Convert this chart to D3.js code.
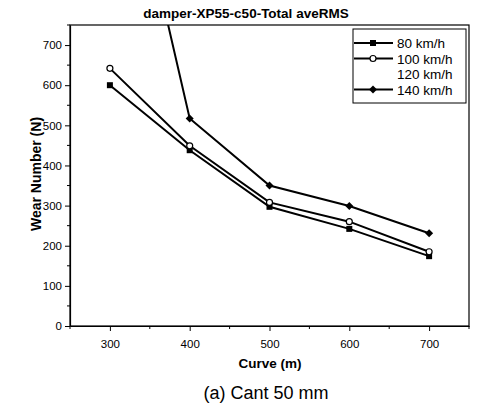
<!DOCTYPE html>
<html>
<head>
<meta charset="utf-8">
<script src="https://cdn.jsdelivr.net/npm/d3@7"></script>
<style>
  body { margin: 0; background: #fff; }
  svg { font-family: "Liberation Sans", Arial, sans-serif; }
</style>
</head>
<body>
<div class="container"></div>
<script>
// curve radius (m)
const curves = [300, 400, 500, 600, 700]
const speeds = ["80 km/h", "100 km/h", "120 km/h", "140 km/h"]
const wear80 = [600, 438, 297, 242, 174]
const wear100 = [642, 449, 308, 260, 185]
const wear120 = []
const wear140 = [1380, 517, 350, 299, 231]
const xTicks = [300, 400, 500, 600, 700]
const yTicks = [0, 100, 200, 300, 400, 500, 600, 700]

const w = 491
const h = 405
const padL = 70, padR = 469, padT = 25, padB = 326

const svg = d3.select(".container").append("svg")
    .attr("width", w)
    .attr("height", h)

const xScale = d3.scaleLinear().domain([250, 750]).range([padL, padR])
const yScale = d3.scaleLinear().domain([0, 750]).range([padB, padT])

svg.append("defs").append("clipPath").attr("id", "plot")
    .append("rect")
    .attr("x", padL).attr("y", padT)
    .attr("width", padR - padL).attr("height", padB - padT)

// frame
svg.append("rect")
    .attr("x", padL).attr("y", padT)
    .attr("width", padR - padL).attr("height", padB - padT)
    .attr("fill", "none").attr("stroke", "#000").attr("stroke-width", 1.2)

const xAxis = d3.axisBottom(xScale).tickValues(xTicks).tickSize(5).tickSizeOuter(0)
const gx = svg.append("g").attr("transform", "translate(0," + padB + ")").call(xAxis)
gx.selectAll("text").attr("font-size", 11.5).attr("dy", "1.2em")
gx.append("g").selectAll("line")
    .data(d3.range(250, 751, 100))
    .enter().append("line")
    .attr("x1", d => xScale(d)).attr("x2", d => xScale(d))
    .attr("y1", 0).attr("y2", 3).attr("stroke", "#000")

const yAxis = d3.axisLeft(yScale).tickValues(yTicks).tickSize(5).tickSizeOuter(0)
const gy = svg.append("g").attr("transform", "translate(" + padL + ",0)").call(yAxis)
gy.selectAll("text").attr("font-size", 11.5)
gy.append("g").selectAll("line")
    .data(d3.range(50, 751, 100))
    .enter().append("line")
    .attr("x1", 0).attr("x2", -3)
    .attr("y1", d => yScale(d)).attr("y2", d => yScale(d)).attr("stroke", "#000")
svg.selectAll(".domain").attr("stroke-width", 1.2)

const series = [
  { name: speeds[0], values: wear80, marker: "square" },
  { name: speeds[1], values: wear100, marker: "circle" },
  { name: speeds[2], values: wear120, marker: "none" },
  { name: speeds[3], values: wear140, marker: "diamond" }
]

const line = d3.line().x((d, i) => xScale(curves[i])).y(d => yScale(d))

const plot = svg.append("g").attr("clip-path", "url(#plot)")

function drawMarker(g, type, x, y) {
  if (type === "square") {
    g.append("rect").attr("x", x - 3).attr("y", y - 3).attr("width", 6).attr("height", 6).attr("fill", "#000")
  } else if (type === "circle") {
    g.append("circle").attr("cx", x).attr("cy", y).attr("r", 3).attr("fill", "#fff").attr("stroke", "#000").attr("stroke-width", 1.2)
  } else if (type === "diamond") {
    g.append("path").attr("d", `M${x},${y - 4}L${x + 4},${y}L${x},${y + 4}L${x - 4},${y}Z`).attr("fill", "#000")
  }
}

series.forEach(s => {
  if (!s.values.length) return
  plot.append("path")
      .datum(s.values)
      .attr("d", line)
      .attr("fill", "none")
      .attr("stroke", "#000")
      .attr("stroke-width", 2)
  s.values.forEach((v, i) => drawMarker(plot, s.marker, xScale(curves[i]), yScale(v)))
})

// legend
const lg = svg.append("g").attr("transform", "translate(353,29)")
lg.append("rect").attr("width", 113).attr("height", 74)
    .attr("fill", "#fff").attr("stroke", "#000").attr("stroke-width", 1)
series.forEach((s, i) => {
  const yy = 14 + i * 15.5
  if (s.marker !== "none") {
    lg.append("line").attr("x1", 1).attr("x2", 40).attr("y1", yy).attr("y2", yy)
        .attr("stroke", "#000").attr("stroke-width", 2)
    drawMarker(lg, s.marker, 20, yy)
  }
  lg.append("text").attr("x", 44).attr("y", yy + 5)
      .attr("font-size", 13.5).text(s.name)
})

svg.append("text").attr("x", 246).attr("y", 18)
    .attr("text-anchor", "middle").attr("font-size", 13.5).attr("font-weight", "bold")
    .text("damper-XP55-c50-Total aveRMS")

svg.append("text").attr("x", 270).attr("y", 368)
    .attr("text-anchor", "middle").attr("font-size", 13.5).attr("font-weight", "bold")
    .text("Curve (m)")

svg.append("text")
    .attr("transform", "rotate(-90)")
    .attr("x", -174).attr("y", 41)
    .attr("text-anchor", "middle").attr("font-size", 14).attr("font-weight", "bold")
    .text("Wear Number (N)")

svg.append("text").attr("x", 266).attr("y", 399)
    .attr("text-anchor", "middle").attr("font-size", 18)
    .text("(a) Cant 50 mm")
</script>
</body>
</html>
